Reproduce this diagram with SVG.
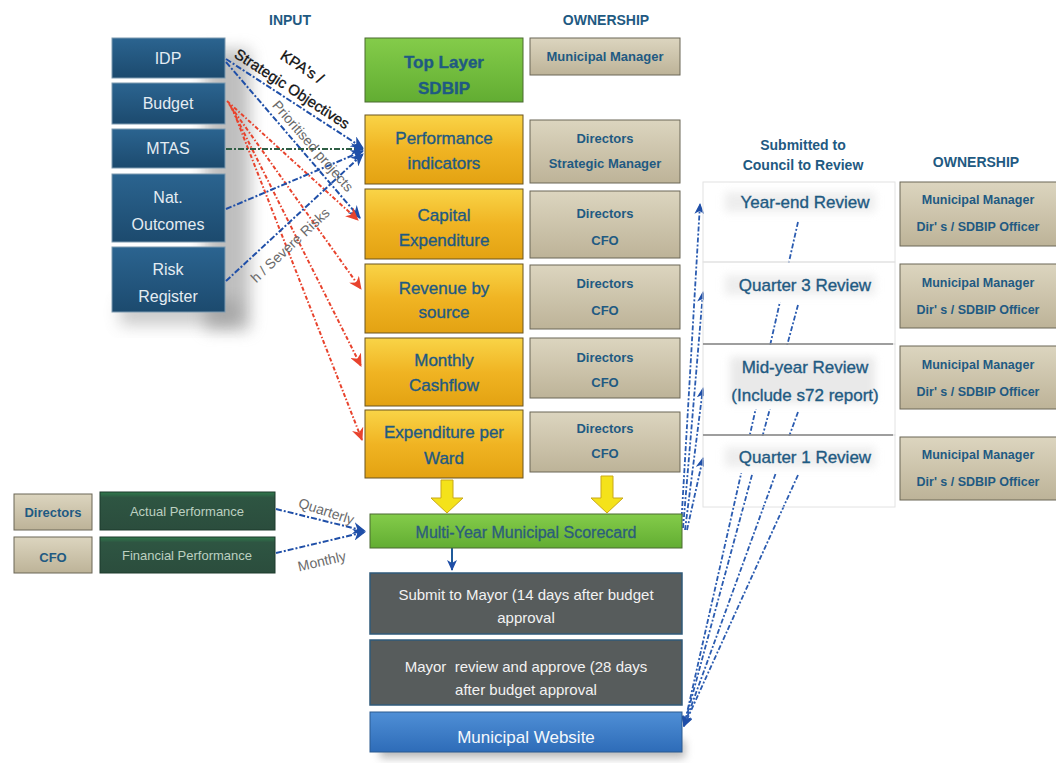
<svg xmlns="http://www.w3.org/2000/svg" width="1056" height="763" viewBox="0 0 1056 763">
<style>
  text { font-family: "Liberation Sans", Arial, sans-serif; }
  .hdr { font-size: 14px; font-weight: bold; fill: #1f5a82; text-anchor: middle; }
  .inp { font-size: 16px; fill: #e4ecf2; text-anchor: middle; }
  .ctr { font-size: 17px; fill: #1f5a82; text-anchor: middle; stroke: #1f5a82; stroke-width: 0.35; }
  .own { font-size: 13px; font-weight: bold; fill: #1f5a82; text-anchor: middle; }
  .own2 { font-size: 12.5px; font-weight: bold; fill: #1f5a82; text-anchor: middle; }
  .rev { font-size: 17px; fill: #1f5a82; text-anchor: middle; stroke: #1f5a82; stroke-width: 0.35; }
  .wht { font-size: 15px; fill: #f2f2f2; text-anchor: middle; }
  .perf { font-size: 13px; fill: #bcd0c0; text-anchor: middle; }
  .lbl { font-size: 15px; fill: #111; stroke: #111; stroke-width: 0.3; }
  .lblg { font-size: 14px; fill: #6a6a6a; }
  .inbox { fill: url(#gBlue); stroke: #7d9ab0; stroke-width: 1; }
  .orbox { fill: url(#gOrange); stroke: #6b5520; stroke-width: 1; }
  .tan { fill: url(#gTan); stroke: #6b6656; stroke-width: 1; }
  .gray { fill: #575c5c; stroke: #2f5a7a; stroke-width: 1.5; }
  .blue { fill: none; stroke: #1f4fa8; stroke-width: 2; stroke-dasharray: 6 2 2 2; }
  .blue2 { fill: none; stroke: #2a5bb0; stroke-width: 1.8; stroke-dasharray: 5 2 2 2; }
  .red { fill: none; stroke: #e8432d; stroke-width: 2; stroke-dasharray: 4 2 1.5 2; }
  .grn { fill: none; stroke: #2f5e45; stroke-width: 2; stroke-dasharray: 6 2 2 2; }
  .revbox { fill: none; stroke: #e2e2e2; stroke-width: 1; }
</style>
<defs>
  <linearGradient id="gBlue" x1="0" y1="0" x2="0" y2="1">
    <stop offset="0" stop-color="#2b6490"/>
    <stop offset="1" stop-color="#1c4a6e"/>
  </linearGradient>
  <linearGradient id="gOrange" x1="0" y1="0" x2="0" y2="1">
    <stop offset="0" stop-color="#f9d447"/>
    <stop offset="0.5" stop-color="#f0b423"/>
    <stop offset="1" stop-color="#e3a212"/>
  </linearGradient>
  <linearGradient id="gTan" x1="0" y1="0" x2="0" y2="1">
    <stop offset="0" stop-color="#dcd5bf"/>
    <stop offset="1" stop-color="#bdb398"/>
  </linearGradient>
  <linearGradient id="gGreen" x1="0" y1="0" x2="0" y2="1">
    <stop offset="0" stop-color="#84cc4a"/>
    <stop offset="1" stop-color="#62ad32"/>
  </linearGradient>
  <linearGradient id="gWeb" x1="0" y1="0" x2="0" y2="1">
    <stop offset="0" stop-color="#4f8fd6"/>
    <stop offset="1" stop-color="#2e6cb8"/>
  </linearGradient>
  <linearGradient id="gDkg" x1="0" y1="0" x2="0" y2="1">
    <stop offset="0" stop-color="#2f7a4c"/>
    <stop offset="0.15" stop-color="#2e5542"/>
    <stop offset="1" stop-color="#2b4d3d"/>
  </linearGradient>
  <filter id="blur8" x="-50%" y="-50%" width="200%" height="200%">
    <feGaussianBlur stdDeviation="8"/>
  </filter>
  <filter id="blur4" x="-50%" y="-50%" width="200%" height="200%">
    <feGaussianBlur stdDeviation="4"/>
  </filter>
  <marker id="aBlue" markerWidth="14" markerHeight="12" refX="12" refY="6" orient="auto" markerUnits="userSpaceOnUse">
    <path d="M0,0 L13,6 L0,12 L4,6 z" fill="#1f4fa8"/>
  </marker>
  <marker id="aRed" markerWidth="14" markerHeight="12" refX="12" refY="6" orient="auto" markerUnits="userSpaceOnUse">
    <path d="M0,0 L13,6 L0,12 L4,6 z" fill="#e8432d"/>
  </marker>
  <marker id="aNavy" markerWidth="12" markerHeight="10" refX="10" refY="5" orient="auto" markerUnits="userSpaceOnUse">
    <path d="M0,0 L11,5 L0,10 L3,5 z" fill="#1f4fa8"/>
  </marker>
</defs>

<rect x="0" y="0" width="1056" height="763" fill="#ffffff"/>

<!-- headers -->
<g id="headers">
  <text class="hdr" x="290" y="25">INPUT</text>
  <text class="hdr" x="606" y="25">OWNERSHIP</text>
  <text class="hdr" x="803" y="150">Submitted to</text>
  <text class="hdr" x="803" y="170">Council to Review</text>
  <text class="hdr" x="976" y="167">OWNERSHIP</text>
</g>

<!-- shadow of input column -->
<rect x="205" y="50" width="45" height="280" fill="#8a8a8a" opacity="0.55" filter="url(#blur8)"/>
<rect x="120" y="300" width="120" height="25" fill="#8a8a8a" opacity="0.45" filter="url(#blur8)"/>

<!-- input nodes -->
<g id="in-idp"><rect class="inbox" x="112" y="38" width="113" height="40"/><text class="inp" x="168" y="64">IDP</text></g>
<g id="in-budget"><rect class="inbox" x="112" y="83" width="113" height="41"/><text class="inp" x="168" y="109">Budget</text></g>
<g id="in-mtas"><rect class="inbox" x="112" y="129" width="113" height="39"/><text class="inp" x="168" y="154">MTAS</text></g>
<g id="in-nat"><rect class="inbox" x="112" y="174" width="113" height="68"/><text class="inp" x="168" y="203">Nat.</text><text class="inp" x="168" y="230">Outcomes</text></g>
<g id="in-risk"><rect class="inbox" x="112" y="247" width="113" height="65"/><text class="inp" x="168" y="275">Risk</text><text class="inp" x="168" y="302">Register</text></g>

<!-- connectors -->
<g id="connectors">
  <line class="blue" x1="226" y1="59" x2="363" y2="148" marker-end="url(#aBlue)"/>
  <line class="blue" x1="226" y1="62" x2="360" y2="218" marker-end="url(#aBlue)"/>
  <line class="red" x1="227" y1="101" x2="358" y2="220" marker-end="url(#aRed)"/>
  <line class="red" x1="229" y1="104" x2="361" y2="289" marker-end="url(#aRed)"/>
  <line class="red" x1="231" y1="107" x2="361" y2="366" marker-end="url(#aRed)"/>
  <line class="red" x1="233" y1="110" x2="362" y2="440" marker-end="url(#aRed)"/>
  <line class="grn" x1="226" y1="149" x2="363" y2="149" marker-end="url(#aBlue)"/>
  <line class="blue" x1="226" y1="209" x2="363" y2="151" marker-end="url(#aBlue)"/>
  <line class="blue" x1="226" y1="281" x2="363" y2="154" marker-end="url(#aBlue)"/>
  <line class="blue" x1="276" y1="509" x2="365" y2="531" marker-end="url(#aBlue)"/>
  <line class="blue" x1="276" y1="553" x2="365" y2="532" marker-end="url(#aBlue)"/>
  <line x1="452" y1="548" x2="452" y2="570" stroke="#1f5a9a" stroke-width="2" marker-end="url(#aNavy)"/>
  <line class="blue2" x1="681" y1="528" x2="700" y2="204" marker-end="url(#aNavy)"/>
  <line class="blue2" x1="683" y1="528" x2="703" y2="292" marker-end="url(#aNavy)"/>
  <line class="blue2" x1="685" y1="530" x2="703" y2="388" marker-end="url(#aNavy)"/>
  <line class="blue2" x1="687" y1="530" x2="703" y2="458" marker-end="url(#aNavy)"/>
  <line class="blue2" x1="798" y1="222" x2="684" y2="726" marker-end="url(#aNavy)"/>
  <line class="blue2" x1="798" y1="305" x2="684" y2="726" marker-end="url(#aNavy)"/>
  <line class="blue2" x1="798" y1="412" x2="684" y2="726" marker-end="url(#aNavy)"/>
  <line class="blue2" x1="798" y1="475" x2="684" y2="726" marker-end="url(#aNavy)"/>
</g>

<!-- connector labels -->
<g id="conn-labels">
  <text class="lbl" x="302" y="72" text-anchor="middle" transform="rotate(33 302 67)">KPA's /</text>
  <text class="lbl" x="292" y="94" text-anchor="middle" transform="rotate(33 292 89)">Strategic Objectives</text>
  <text class="lblg" x="313" y="151" text-anchor="middle" transform="rotate(49 313 146)">Prioritised projects</text>
  <text class="lblg" x="290" y="250" text-anchor="middle" transform="rotate(-43 290 245)">h / Severe Risks</text>
  <text class="lblg" x="326" y="516" text-anchor="middle" transform="rotate(18 326 512)">Quarterly</text>
  <text class="lblg" x="322" y="566" text-anchor="middle" transform="rotate(-13 322 562)">Monthly</text>
</g>

<!-- center column -->
<g id="top-layer"><rect x="365" y="38" width="158" height="64" fill="url(#gGreen)" stroke="#4a6b30" stroke-width="1"/><text class="ctr" x="444" y="68" font-weight="bold">Top Layer</text><text class="ctr" x="444" y="94" font-weight="bold">SDBIP</text></g>
<g id="own-mm"><rect class="tan" x="530" y="38" width="150" height="37"/><text class="own" x="605" y="61">Municipal Manager</text></g>

<g id="perf-ind"><rect class="orbox" x="365" y="115" width="158" height="69"/><text class="ctr" x="444" y="144">Performance</text><text class="ctr" x="444" y="169">indicators</text></g>
<g id="own-pi"><rect class="tan" x="530" y="120" width="150" height="63"/><text class="own" x="605" y="143">Directors</text><text class="own" x="605" y="168">Strategic Manager</text></g>

<g id="cap-exp"><rect class="orbox" x="365" y="189" width="158" height="70"/><text class="ctr" x="444" y="221">Capital</text><text class="ctr" x="444" y="246">Expenditure</text></g>
<g id="own-ce"><rect class="tan" x="530" y="191" width="150" height="67"/><text class="own" x="605" y="218">Directors</text><text class="own" x="605" y="245">CFO</text></g>

<g id="rev-src"><rect class="orbox" x="365" y="264" width="158" height="69"/><text class="ctr" x="444" y="294">Revenue by</text><text class="ctr" x="444" y="318">source</text></g>
<g id="own-rev"><rect class="tan" x="530" y="265" width="150" height="64"/><text class="own" x="605" y="288">Directors</text><text class="own" x="605" y="315">CFO</text></g>

<g id="cashflow"><rect class="orbox" x="365" y="338" width="158" height="68"/><text class="ctr" x="444" y="366">Monthly</text><text class="ctr" x="444" y="391">Cashflow</text></g>
<g id="own-mc"><rect class="tan" x="530" y="338" width="150" height="60"/><text class="own" x="605" y="362">Directors</text><text class="own" x="605" y="387">CFO</text></g>

<g id="exp-ward"><rect class="orbox" x="365" y="410" width="158" height="68"/><text class="ctr" x="444" y="438">Expenditure per</text><text class="ctr" x="444" y="464">Ward</text></g>
<g id="own-epw"><rect class="tan" x="530" y="412" width="150" height="60"/><text class="own" x="605" y="433">Directors</text><text class="own" x="605" y="458">CFO</text></g>

<!-- yellow block arrows -->
<g id="yellow-arrows">
  <path d="M441,480 L453,480 L453,498 L463,498 L447,513 L431,498 L441,498 z" fill="#f4e21a" stroke="#c9a818" stroke-width="1"/>
  <path d="M601,476 L613,476 L613,498 L623,498 L607,513 L591,498 L601,498 z" fill="#f4e21a" stroke="#c9a818" stroke-width="1"/>
</g>

<g id="scorecard"><rect x="370" y="514" width="312" height="34" fill="url(#gGreen)" stroke="#4a6b30" stroke-width="1"/><text x="526" y="538" font-size="16" fill="#2c5d7c" text-anchor="middle" stroke="#2c5d7c" stroke-width="0.3">Multi-Year Municipal Scorecard</text></g>

<g id="submit-mayor"><rect class="gray" x="370" y="573" width="312" height="61"/><text class="wht" x="526" y="600">Submit to Mayor (14 days after budget</text><text class="wht" x="526" y="623">approval</text></g>
<g id="mayor-review"><rect class="gray" x="370" y="640" width="312" height="65"/><text class="wht" x="526" y="672" xml:space="preserve">Mayor  review and approve (28 days</text><text class="wht" x="526" y="695">after budget approval</text></g>
<rect x="380" y="740" width="305" height="18" fill="#777" opacity="0.5" filter="url(#blur4)"/>
<g id="website"><rect x="370" y="712" width="312" height="40" fill="url(#gWeb)" stroke="#2a5a90" stroke-width="1"/><text x="526" y="743" font-size="17" fill="#f4f8fc" text-anchor="middle">Municipal Website</text></g>

<!-- bottom-left -->
<g id="own-directors"><rect class="tan" x="14" y="494" width="78" height="36"/><text class="own" x="53" y="517">Directors</text></g>
<g id="actual-perf"><rect x="100" y="492" width="175" height="38" fill="url(#gDkg)" stroke="#1d3a2c" stroke-width="1"/><text class="perf" x="187" y="516">Actual Performance</text></g>
<g id="own-cfo"><rect class="tan" x="14" y="537" width="78" height="36"/><text class="own" x="53" y="562">CFO</text></g>
<g id="fin-perf"><rect x="100" y="537" width="175" height="36" fill="url(#gDkg)" stroke="#1d3a2c" stroke-width="1"/><text class="perf" x="187" y="560">Financial Performance</text></g>

<!-- review boxes (upper part opaque, covering lines) -->
<g id="rev-yearend">
  <rect class="revbox" x="703" y="182" width="192" height="80"/>
  <rect x="704" y="183" width="190" height="37" fill="#ffffff"/>
  <rect x="725" y="192" width="150" height="20" fill="#e6e6e6" opacity="0.7" filter="url(#blur4)"/>
  <text class="rev" x="805" y="208">Year-end Review</text>
</g>
<g id="rev-q3">
  <rect class="revbox" x="703" y="262" width="192" height="82"/>
  <rect x="704" y="263" width="190" height="39" fill="#ffffff"/>
  <rect x="725" y="275" width="150" height="20" fill="#e6e6e6" opacity="0.7" filter="url(#blur4)"/>
  <text class="rev" x="805" y="291">Quarter 3 Review</text>
</g>
<g id="rev-mid">
  <rect class="revbox" x="703" y="344" width="192" height="91"/>
  <rect x="704" y="345" width="190" height="64" fill="#ffffff"/>
  <rect x="730" y="357" width="145" height="46" fill="#e0e0e0" opacity="0.7" filter="url(#blur4)"/>
  <text class="rev" x="805" y="373">Mid-year Review</text>
  <text class="rev" x="805" y="401">(Include s72 report)</text>
</g>
<g id="rev-q1">
  <rect class="revbox" x="703" y="435" width="192" height="72"/>
  <rect x="704" y="436" width="190" height="37" fill="#ffffff"/>
  <rect x="725" y="447" width="150" height="20" fill="#e6e6e6" opacity="0.7" filter="url(#blur4)"/>
  <text class="rev" x="805" y="463">Quarter 1 Review</text>
</g>
<line x1="703" y1="344" x2="893" y2="344" stroke="#555" stroke-width="1.2"/>
<line x1="703" y1="435" x2="893" y2="435" stroke="#555" stroke-width="1.2"/>

<!-- right ownership -->
<g id="own-yearend"><rect class="tan" x="900" y="182" width="160" height="64"/><text class="own2" x="978" y="204">Municipal Manager</text><text class="own2" x="978" y="231">Dir' s / SDBIP Officer</text></g>
<g id="own-q3"><rect class="tan" x="900" y="264" width="160" height="64"/><text class="own2" x="978" y="287">Municipal Manager</text><text class="own2" x="978" y="314">Dir' s / SDBIP Officer</text></g>
<g id="own-mid"><rect class="tan" x="900" y="346" width="160" height="63"/><text class="own2" x="978" y="369">Municipal Manager</text><text class="own2" x="978" y="396">Dir' s / SDBIP Officer</text></g>
<g id="own-q1"><rect class="tan" x="900" y="437" width="160" height="63"/><text class="own2" x="978" y="459">Municipal Manager</text><text class="own2" x="978" y="486">Dir' s / SDBIP Officer</text></g>
</svg>
